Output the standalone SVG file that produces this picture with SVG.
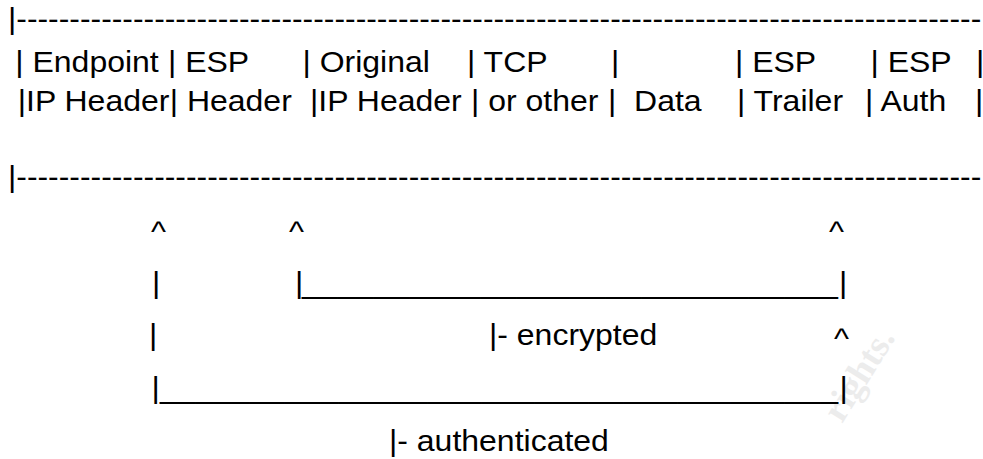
<svg xmlns="http://www.w3.org/2000/svg" width="983" height="459" viewBox="0 0 983 459" xml:space="preserve">
<style>
text{font-family:"Liberation Sans",Arial,sans-serif;font-size:32px;fill:#000;white-space:pre}
.wm{font-family:"Liberation Serif","Times New Roman",serif;font-weight:bold;font-size:37px;fill:#ececec}
</style>
<rect width="983" height="459" fill="#fff"/>
<g id="watermark"><text class="wm" transform="translate(842,424) rotate(-58)">rights.</text></g>
<g transform="scale(1,0.9375)">
<g id="row1-top-rule"><text x="8" y="30.93">|</text><text x="16.3" y="30.93" textLength="965" lengthAdjust="spacingAndGlyphs">-------------------------------------------------------------------------------------------</text></g>
<g id="row2-labels">
<text x="15.3" y="76.27">| Endpoint</text>
<text x="168" y="76.27">| ESP</text>
<text x="302.5" y="76.27">| Original</text>
<text x="467" y="76.27">| TCP</text>
<text x="611" y="76.27">|</text>
<text x="735" y="76.27">| ESP</text>
<text x="870.5" y="76.27">| ESP</text>
<text x="976" y="76.27">|</text>
</g>
<g id="row3-labels">
<text x="17.7" y="118.93">|IP Header</text>
<text x="169.7" y="118.93">| Header</text>
<text x="310" y="118.93">|IP Header</text>
<text x="471" y="118.93">| or other</text>
<text x="608" y="118.93">|  Data</text>
<text x="737" y="118.93">| Trailer</text>
<text x="865" y="118.93">| Auth</text>
<text x="975" y="118.93">|</text>
</g>
<g id="row4-bottom-rule"><text x="8" y="199.73">|</text><text x="16.3" y="199.73" textLength="965" lengthAdjust="spacingAndGlyphs">-------------------------------------------------------------------------------------------</text></g>
<g id="connectors">
<text x="151" y="258">^</text>
<text x="289" y="258">^</text>
<text x="829" y="258">^</text>
<text x="152" y="312.27">|</text>
<text x="295" y="312.27">|</text>
<text x="302" y="312.27" textLength="536" lengthAdjust="spacingAndGlyphs">______________________________</text>
<text x="839" y="312.27">|</text>
<text x="149" y="368.53">|</text>
<text x="834" y="372">^</text>
<text x="151.5" y="424.8">|</text>
<text x="160" y="424.8" textLength="678" lengthAdjust="spacingAndGlyphs">______________________________________</text>
<text x="839.5" y="424.8">|</text>
</g>
<g id="label-encrypted"><text x="489" y="368.53">|- encrypted</text></g>
<g id="label-authenticated"><text x="389" y="481.07">|- authenticated</text></g>
</g>
</svg>
